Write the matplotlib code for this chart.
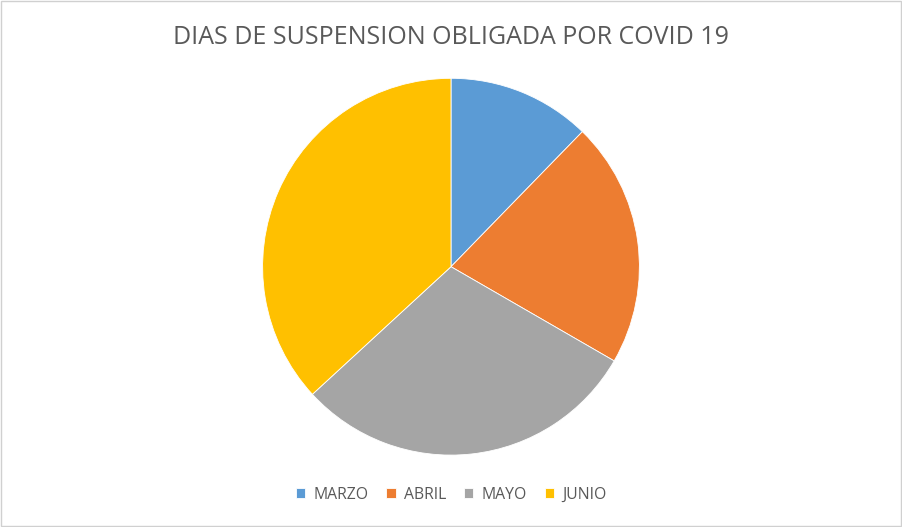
import matplotlib.pyplot as plt
from matplotlib.patches import Rectangle

meses = ["MARZO", "ABRIL", "MAYO", "JUNIO"]
dias = [14, 24, 34, 42]
colores = ["#5b9bd5", "#ed7d31", "#a5a5a5", "#ffc000"]

plt.rcParams['font.family'] = ['Open Sans', 'DejaVu Sans']

fig = plt.figure(figsize=(9.02, 5.27), dpi=100)
W, H = 902, 527
cx, cy, r = 451, 266.7, 188.4
ax = fig.add_axes([(cx - r) / W, (H - cy - r) / H, 2 * r / W, 2 * r / H])
wedges, _ = ax.pie(dias, colors=colores, startangle=90, counterclock=False,
                   radius=1, wedgeprops=dict(edgecolor="white", linewidth=0.6))
ax.set_xlim(-1, 1)
ax.set_ylim(-1, 1)
ax.axis("off")

fig.text(0.5, 1 - 38 / H, "DIAS DE SUSPENSION OBLIGADA POR COVID 19",
         ha="center", va="center", fontsize=18, color="#595959")

fig.legend(wedges, meses, loc="center", bbox_to_anchor=(0.5, 1 - 495 / H),
           ncol=4, frameon=False, fontsize=11.3, handlelength=0.6, handleheight=0.6,
           handletextpad=0.5, columnspacing=1.15, labelcolor="#595959")

fig.patches.append(Rectangle((0.001, 0.001), 0.998, 0.997, transform=fig.transFigure,
                             fill=False, edgecolor="#d0d0d0", linewidth=1))

fig.savefig("out.png", dpi=100)
